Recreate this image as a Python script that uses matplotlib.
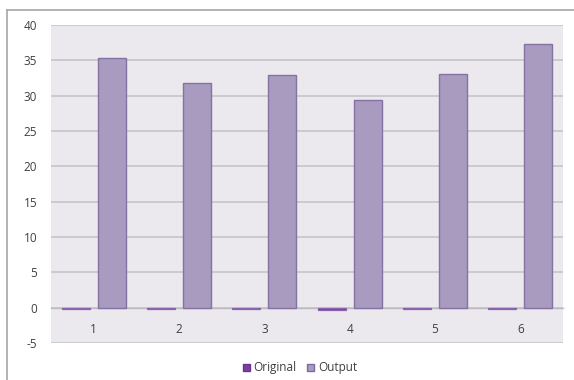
import matplotlib
matplotlib.use("Agg")
import matplotlib.pyplot as plt
import numpy as np
from matplotlib.lines import Line2D

categories = ["1", "2", "3", "4", "5", "6"]
original = [-0.12, -0.22, -0.22, -0.38, -0.25, -0.12]
output = [35.4, 31.8, 32.9, 29.4, 33.1, 37.3]
y_ticks = [-5, 0, 5, 10, 15, 20, 25, 30, 35, 40]

plt.rcParams["font.family"] = ["Open Sans", "DejaVu Sans"]

fig = plt.figure(figsize=(5.74, 3.80), dpi=100)
fig.patch.set_facecolor("white")
W, H = 574, 380
ax = fig.add_axes([51 / W, 1 - 343 / H, (563 - 51) / W, (343 - 25) / H])
ax.set_facecolor("#EBE8EE")

x = np.arange(len(categories))
offset = 0.21
width = 0.33
ax.bar(x - offset, original, width, color="#7A3FA0", edgecolor="#8A62AE",
       linewidth=0.9, label="Original", zorder=3)
ax.bar(x + offset, output, width, color="#A99BC0", edgecolor="#8472A2",
       linewidth=1.0, label="Output", zorder=3)

ax.set_xlim(-0.5, len(categories) - 0.5)
ax.set_ylim(-5, 40)
ax.set_yticks(y_ticks)
ax.set_yticklabels([str(v) for v in y_ticks])
ax.yaxis.grid(True, color="#CAC6CE", linewidth=1.3, zorder=0)
ax.set_axisbelow(True)

for side in ["left", "right", "top"]:
    ax.spines[side].set_visible(False)
ax.spines["bottom"].set_position(("data", 0))
ax.spines["bottom"].set_color("#BDBAC0")
ax.spines["bottom"].set_linewidth(1.0)
ax.spines["bottom"].set_zorder(2)

ax.set_xticks(x)
ax.set_xticklabels(categories)
ax.tick_params(axis="x", length=0, pad=11, labelsize=8.5, labelcolor="#404040")
ax.tick_params(axis="y", length=0, pad=10, labelsize=8.5, labelcolor="#404040")

fig.legend(
    handles=[
        plt.Rectangle((0, 0), 1, 1, facecolor="#7A3FA0", edgecolor="#6A3590"),
        plt.Rectangle((0, 0), 1, 1, facecolor="#A99BC0", edgecolor="#7D6B9C"),
    ],
    labels=["Original", "Output"],
    loc="center", bbox_to_anchor=(300 / W, 1 - 368 / H), ncol=2, frameon=False,
    fontsize=8.5, handlelength=0.6, handleheight=0.6, handletextpad=0.3,
    columnspacing=0.9, labelcolor="#404040",
)

# outer chart frame (left and top edges)
fig.add_artist(Line2D([7 / W, 7 / W], [0, 1 - 10 / H], transform=fig.transFigure,
                      color="#A6A6A6", linewidth=1.2))
fig.add_artist(Line2D([7 / W, 1], [1 - 10 / H, 1 - 10 / H], transform=fig.transFigure,
                      color="#A6A6A6", linewidth=1.2))

fig.savefig("out.png", dpi=100)
